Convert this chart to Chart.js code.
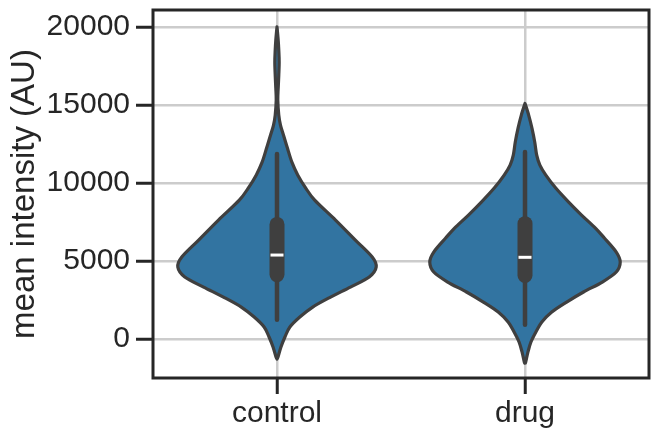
<!DOCTYPE html>
<html>
<head>
<meta charset="utf-8">
<script src="https://cdn.jsdelivr.net/npm/chart.js@4.4.0/dist/chart.umd.min.js"></script>
<style>
  body { margin: 0; background: #fff; }
</style>
</head>
<body>
<canvas id="violin" width="659" height="440"></canvas>
<script>
// groups on the x axis
var categories = ['control', 'drug'];
var yTicks = [0, 5000, 10000, 15000, 20000];

// violin outline: intensity values and relative half width (1 = widest)
var controlIntensity = [-1280, -1155, -510, 130, 770, 1410, 2050, 2690, 3330, 3975, 4615, 5255, 6345, 7630, 8910, 9680, 10510, 11345, 12245, 13080, 13720, 14360, 15320, 16090, 16920, 17755, 18525, 19170, 20020];
var controlDensity = [0, 0.01, 0.04, 0.08, 0.13, 0.23, 0.36, 0.54, 0.74, 0.93, 1.0, 0.96, 0.79, 0.59, 0.38, 0.29, 0.21, 0.15, 0.105, 0.065, 0.035, 0.018, 0.008, 0.012, 0.018, 0.022, 0.018, 0.012, 0];
var drugIntensity = [-1540, -1475, -830, -190, 450, 1090, 1730, 2370, 3015, 3655, 4295, 4935, 5575, 6475, 7115, 7950, 8780, 9680, 10510, 11155, 11795, 12630, 13525, 14360, 15110];
var drugDensity = [0, 0.007, 0.03, 0.06, 0.11, 0.17, 0.27, 0.42, 0.59, 0.78, 0.92, 0.96, 0.92, 0.80, 0.71, 0.57, 0.44, 0.31, 0.21, 0.15, 0.118, 0.098, 0.07, 0.037, 0];

// inner box stats per group
var whiskerLow = [1240, 920];
var boxQ1 = [4130, 4070];
var boxMedian = [5385, 5240];
var boxQ3 = [7350, 7400];
var whiskerHigh = [11860, 12000];

var intensities = [controlIntensity, drugIntensity];
var densities = [controlDensity, drugDensity];

var FONT = "'Liberation Sans', Arial, sans-serif";
var INK = '#262626';
var GRAY = '#3f3f3f';

function splineThrough(ctx, pts, start) {
    if (start) ctx.moveTo(pts[0].x, pts[0].y);
    else ctx.lineTo(pts[0].x, pts[0].y);
    for (var i = 0; i < pts.length - 1; i++) {
        var p0 = pts[i - 1] || pts[i];
        var p1 = pts[i];
        var p2 = pts[i + 1];
        var p3 = pts[i + 2] || p2;
        ctx.bezierCurveTo(
            p1.x + (p2.x - p0.x) / 6, p1.y + (p2.y - p0.y) / 6,
            p2.x - (p3.x - p1.x) / 6, p2.y - (p3.y - p1.y) / 6,
            p2.x, p2.y);
    }
}

var violinPlugin = {
    id: 'violins',
    afterDatasetsDraw: function (chart) {
        var ctx = chart.ctx;
        var xs = chart.scales.x;
        var ys = chart.scales.y;
        var halfWidth = 0.4;
        ctx.save();
        chart.data.datasets.forEach(function (ds, i) {
            var cx = xs.getPixelForValue(i);
            var left = [], right = [];
            ds.data.forEach(function (pt, j) {
                var y = ys.getPixelForValue(pt.y);
                var d = ds.density[j] * halfWidth;
                left.push({ x: xs.getPixelForValue(i - d), y: y });
                right.push({ x: xs.getPixelForValue(i + d), y: y });
            });
            right.reverse();
            ctx.beginPath();
            splineThrough(ctx, left, true);
            splineThrough(ctx, right, false);
            ctx.closePath();
            ctx.fillStyle = '#3274a1';
            ctx.fill();
            ctx.lineWidth = 3.2;
            ctx.lineJoin = 'round';
            ctx.strokeStyle = GRAY;
            ctx.stroke();

            // whiskers
            ctx.lineCap = 'round';
            ctx.beginPath();
            ctx.moveTo(cx, ys.getPixelForValue(whiskerLow[i]));
            ctx.lineTo(cx, ys.getPixelForValue(whiskerHigh[i]));
            ctx.lineWidth = 4.5;
            ctx.stroke();
            // box
            ctx.beginPath();
            ctx.moveTo(cx, ys.getPixelForValue(boxQ1[i]));
            ctx.lineTo(cx, ys.getPixelForValue(boxQ3[i]));
            ctx.lineWidth = 15;
            ctx.stroke();
            // median
            ctx.lineCap = 'butt';
            ctx.beginPath();
            var my = ys.getPixelForValue(boxMedian[i]);
            ctx.moveTo(cx - 6.5, my);
            ctx.lineTo(cx + 6.5, my);
            ctx.lineWidth = 3;
            ctx.strokeStyle = '#ffffff';
            ctx.stroke();
        });
        ctx.restore();
    },
    afterDraw: function (chart) {
        var a = chart.chartArea;
        var ctx = chart.ctx;
        ctx.save();
        ctx.lineWidth = 3;
        ctx.strokeStyle = INK;
        ctx.strokeRect(a.left, a.top, a.right - a.left, a.bottom - a.top);
        ctx.restore();
    }
};

var datasets = categories.map(function (name, i) {
    return {
        label: name,
        data: intensities[i].map(function (v) { return { x: i, y: v }; }),
        density: densities[i],
        pointRadius: 0,
        showLine: false
    };
});

var chart = new Chart(document.getElementById('violin'), {
    type: 'scatter',
    data: { datasets: datasets },
    options: {
        responsive: false,
        devicePixelRatio: 1,
        animation: false,
        layout: { padding: { top: 10, right: 10, left: 0, bottom: 0 } },
        plugins: { legend: { display: false }, tooltip: { enabled: false } },
        scales: {
            x: {
                type: 'linear',
                min: -0.5,
                max: 1.5,
                afterBuildTicks: function (axis) {
                    axis.ticks = categories.map(function (c, i) { return { value: i }; });
                },
                afterFit: function (axis) {
                    axis.height = 62;
                    axis.paddingLeft = 0;
                    axis.paddingRight = 0;
                },
                ticks: {
                    callback: function (v) { return categories[v]; },
                    font: { family: FONT, size: 30 },
                    color: INK,
                    padding: 2,
                    maxRotation: 0
                },
                grid: { color: '#cccccc', lineWidth: 2.5, tickColor: INK, tickWidth: 3, tickLength: 16 },
                border: { display: false }
            },
            y: {
                type: 'linear',
                min: -2500,
                max: 21100,
                afterBuildTicks: function (axis) {
                    axis.ticks = yTicks.map(function (v) { return { value: v }; });
                },
                afterFit: function (axis) {
                    axis.width = 153;
                    axis.paddingTop = 0;
                    axis.paddingBottom = 0;
                },
                ticks: {
                    callback: function (v) { return String(v); },
                    font: { family: FONT, size: 30 },
                    color: INK,
                    padding: 6
                },
                grid: { color: '#cccccc', lineWidth: 2.5, tickColor: INK, tickWidth: 3, tickLength: 17 },
                border: { display: false },
                title: {
                    display: true,
                    text: 'mean intensity (AU)',
                    font: { family: FONT, size: 33 },
                    color: INK,
                    padding: { top: 5, bottom: 0 }
                }
            }
        }
    },
    plugins: [violinPlugin]
});
</script>
</body>
</html>
